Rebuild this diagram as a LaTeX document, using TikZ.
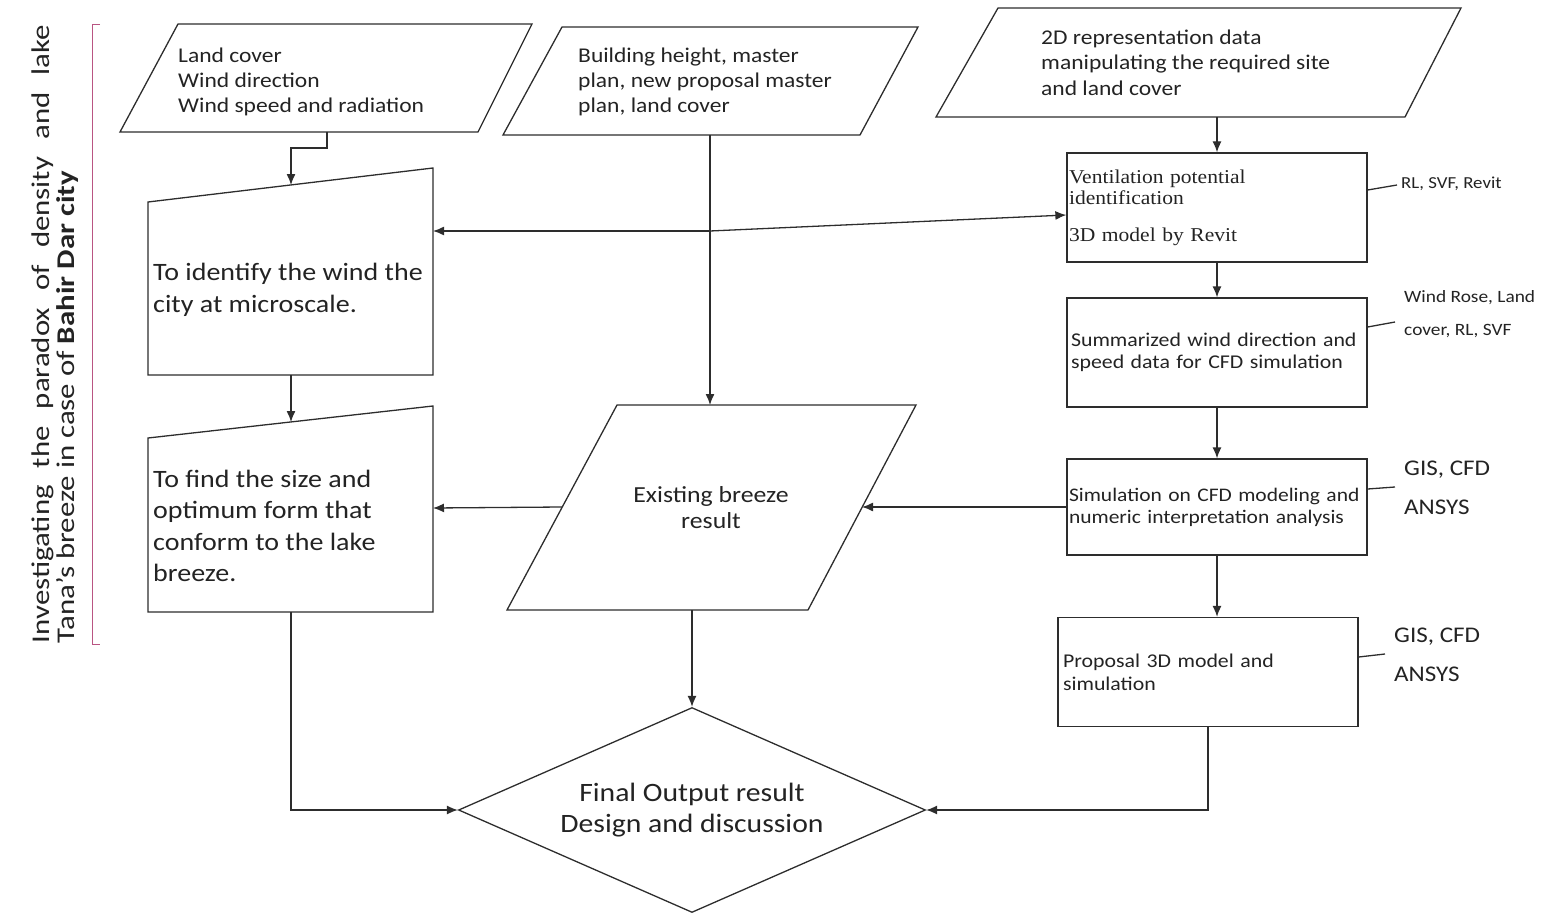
\documentclass[tikz,border=0pt]{standalone}
\usepackage{fontspec}
\setmainfont{Carlito}[FakeStretch=1.12]
\newfontfamily\serifface{Liberation Serif}[FakeStretch=1.1]
\newfontfamily\sideface{Carlito}[FakeStretch=1.21]
\usetikzlibrary{shapes.geometric,arrows.meta}
\newcommand\fsz[2]{\fontsize{#1}{#2}\selectfont}
\definecolor{inkline}{RGB}{45,45,45}
\definecolor{inktext}{RGB}{35,35,35}
\definecolor{bracketrose}{RGB}{185,85,130}

\begin{document}
\begin{tikzpicture}[x=1pt,y=-1pt,
  outline/.style={draw=inkline,line width=1.3pt,line join=miter},
  link/.style={draw=inkline,line width=1.3pt},
  arr/.style={link,-{Latex[length=11pt,width=9pt]}},
  txt/.style={text=inktext,inner sep=0pt,align=left},
  procbox/.style={outline,rectangle,text=inktext,text width=296pt,inner xsep=2pt,inner ysep=0pt,align=left,minimum height=#1},
  tag/.style={txt,anchor=west},
  bracket/.style={draw=bracketrose,line width=1pt}
]
\useasboundingbox (0,0) rectangle (1542,915);

% side title with its bracket
\node[txt, rotate=90, text width=618pt, align=justify, font=\sideface\fsz{25.5}{24.5}] (title) at (55,334)
  {Investigating the paradox of density and lake\linebreak Tana’s breeze in case of \textbf{Bahir Dar city}};
\draw[bracket] (100,25) -- (92,25) -- (92,644) -- (100,644);

% input data (parallelograms)
\draw[outline] (178,24) -- (532,24) -- (478,132) -- (120,132) -- cycle;
\node[txt, anchor=west, font=\fsz{21}{25}] (landcover) at (178,81.5)
  {Land cover\\Wind direction\\Wind speed and radiation};
\coordinate (landcover-out) at (327,132);

\draw[outline] (562,27) -- (918,27) -- (860,135) -- (503,135) -- cycle;
\node[txt, anchor=west, font=\fsz{21}{25}] (masterplan) at (578,82)
  {Building height, master\\plan, new proposal master\\plan, land cover};
\coordinate (masterplan-out) at (710,135);

\draw[outline] (998,8) -- (1461,8) -- (1405,117) -- (936,117) -- cycle;
\node[txt, anchor=west, font=\fsz{21}{25.5}] (repdata) at (1041,62.5)
  {2D representation data\\manipulating the required site\\and land cover};
\coordinate (repdata-out) at (1217,117);

% manual operations (left column)
\draw[outline] (148,202) -- (433,168) -- (433,375) -- (148,375) -- cycle;
\node[txt, anchor=west, font=\fsz{25}{32}] (identify) at (153,290)
  {To identify the wind the\\city at microscale.};
\coordinate (identify-in) at (291,185);
\coordinate (identify-side) at (433,231);
\coordinate (identify-out) at (291,375);

\draw[outline] (148,438) -- (433,406) -- (433,612) -- (148,612) -- cycle;
\node[txt, anchor=west, font=\fsz{25}{31.3}] (sizeform) at (153,526)
  {To find the size and\\optimum form that\\conform to the lake\\breeze.};
\coordinate (sizeform-in) at (291,422);
\coordinate (sizeform-side) at (433,508);
\coordinate (sizeform-out) at (291,612);

% existing breeze (central parallelogram)
\draw[outline] (617,405) -- (916,405) -- (808,610) -- (507,610) -- cycle;
\node[txt, align=center, font=\fsz{23}{26}] (existing) at (711,508)
  {Existing breeze\\result};
\coordinate (existing-top) at (710,405);
\coordinate (existing-left) at (562,507);
\coordinate (existing-right) at (862,507);
\coordinate (existing-bottom) at (692,610);

% process boxes (right column)
\node[procbox=109pt, font=\serifface\fsz{19.6}{21}] (vent) at (1217,207.5)
  {Ventilation potential\\identification\\[16pt]3D model by Revit};
\node[procbox=109pt, font=\fsz{19.5}{22}, inner xsep=4pt, text width=292pt] (summary) at (1217,352.5)
  {Summarized wind direction and\\speed data for CFD simulation};
\node[procbox=96pt, font=\fsz{19.2}{22}] (cfd) at (1217,507)
  {Simulation on CFD modeling and\\numeric interpretation analysis};
\node[procbox=109pt, font=\fsz{19.5}{23}, inner xsep=5pt, text width=290pt] (proposal) at (1208,672)
  {Proposal 3D model and\\simulation};

% final decision
\node[diamond, outline, aspect=2.28, minimum width=467pt, minimum height=205pt, inner sep=0pt,
  align=center, text=inktext, font=\fsz{26.5}{31}] (final) at (692,810)
  {Final Output result\\Design and discussion};

% tool annotations
\coordinate (vent-tag) at (1397,185);
\coordinate (summary-tag) at (1395,322);
\coordinate (cfd-tag) at (1395,487);
\coordinate (proposal-tag) at (1385,654);
\draw[link] (vent.east |- 0,190) -- (vent-tag);
\draw[link] (summary.east |- 0,327) -- (summary-tag);
\draw[link] (cfd.east |- 0,489) -- (cfd-tag);
\draw[link] (proposal.east |- 0,657) -- (proposal-tag);
\node[tag, font=\fsz{16.8}{20}] (ventnote) at (1401,184) {RL, SVF, Revit};
\node[tag, font=\fsz{17.3}{33}] (summarynote) at (1404,314.5) {Wind Rose, Land\\cover, RL, SVF};
\node[tag, font=\fsz{22.4}{39}] (cfdnote) at (1404,487.5) {GIS, CFD\\ANSYS};
\node[tag, font=\fsz{22.4}{39}] (proposalnote) at (1394,654.5) {GIS, CFD\\ANSYS};

% flow
\draw[arr] (landcover-out) -- (327,148) -- (291,148) -- (identify-in);
\draw[arr] (identify-out) -- (sizeform-in);
\draw[arr] (masterplan-out) -- (existing-top);
\coordinate (split) at (710,231);
\draw[arr] (split) -- (identify-side);
\draw[arr] (split) -- (vent.west |- 0,215);
\draw[arr] (repdata-out) -- (vent.north);
\draw[arr] (vent.south) -- (summary.north);
\draw[arr] (summary.south) -- (cfd.north);
\draw[arr] (cfd.south) -- (cfd.south |- proposal.north);
\draw[arr] (cfd.west) -- (existing-right);
\draw[arr] (existing-left) -- (sizeform-side);
\draw[arr] (existing-bottom) -- (final.north);
\draw[arr] (sizeform-out) |- (final.west);
\draw[arr] (proposal.south) |- (final.east);
\end{tikzpicture}
\end{document}
